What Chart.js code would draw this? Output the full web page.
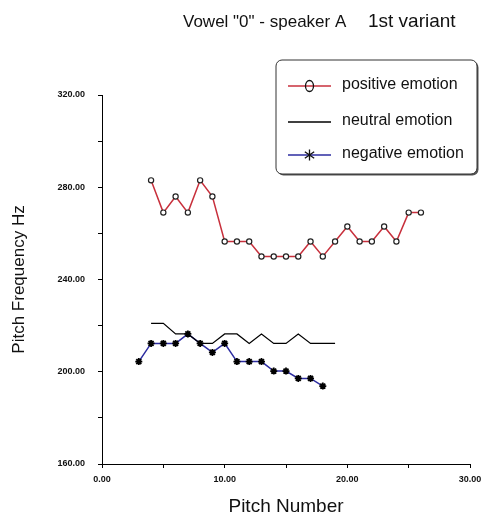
<!DOCTYPE html>
<html>
<head>
<meta charset="utf-8">
<script src="https://cdn.jsdelivr.net/npm/chart.js@4/dist/chart.umd.min.js"></script>
<style>
  html, body { margin: 0; padding: 0; background: #fff; }
  #wrap { width: 488px; height: 526px; position: relative; }
</style>
</head>
<body>
<div id="wrap"><canvas id="c" width="488" height="526"></canvas></div>
<script>
// Pitch numbers and pitch frequencies (Hz) for each emotion
const pitchPositive = [4, 5, 6, 7, 8, 9, 10, 11, 12, 13, 14, 15, 16, 17, 18, 19, 20, 21, 22, 23, 24, 25, 26];
const hzPositive = [283, 269, 276, 269, 283, 276, 256.5, 256.5, 256.5, 250, 250, 250, 250, 256.5, 250, 256.5, 263, 256.5, 256.5, 263, 256.5, 269, 269];

const pitchNeutral = [4, 5, 6, 7, 8, 9, 10, 11, 12, 13, 14, 15, 16, 17, 18, 19];
const hzNeutral = [221, 221, 216.4, 216.4, 212.3, 212.3, 216.4, 216.4, 212.3, 216.4, 212.3, 212.3, 216.4, 212.3, 212.3, 212.3];

const pitchNegative = [3, 4, 5, 6, 7, 8, 9, 10, 11, 12, 13, 14, 15, 16, 17, 18];
const hzNegative = [204.4, 212.3, 212.3, 212.3, 216.4, 212.3, 208.4, 212.3, 204.4, 204.4, 204.4, 200.3, 200.3, 197.1, 197.1, 193.8];

const seriesNames = ['positive emotion', 'neutral emotion', 'negative emotion'];
const titleParts = ['Vowel "0" - speaker A', '1st variant'];
const xTitle = 'Pitch Number';
const yTitle = 'Pitch Frequency Hz';

const FONT = '"Liberation Sans", Arial, sans-serif';
const RED = '#c8303c';
const BLUE = '#2c2ca0';

const pts = (xs, ys) => xs.map((x, i) => ({ x, y: ys[i] }));

// Title and boxed legend drawn on top of the chart
const decorations = {
  id: 'decorations',
  afterDraw(chart) {
    const ctx = chart.ctx;
    ctx.save();
    // title
    ctx.fillStyle = '#111';
    ctx.textBaseline = 'alphabetic';
    ctx.textAlign = 'left';
    ctx.font = '17px ' + FONT;
    ctx.fillText(titleParts[0], 183, 27);
    ctx.font = '19px ' + FONT;
    ctx.fillText(titleParts[1], 368, 27);

    // legend box with a small shadow
    const bx = 276, by = 60, bw = 201, bh = 114, r = 6;
    const rr = (x, y, w, h) => {
      ctx.beginPath();
      ctx.moveTo(x + r, y);
      ctx.arcTo(x + w, y, x + w, y + h, r);
      ctx.arcTo(x + w, y + h, x, y + h, r);
      ctx.arcTo(x, y + h, x, y, r);
      ctx.arcTo(x, y, x + w, y, r);
      ctx.closePath();
    };
    ctx.fillStyle = '#555';
    rr(bx + 1.5, by + 1.5, bw, bh);
    ctx.fill();
    ctx.fillStyle = '#fff';
    rr(bx, by, bw, bh);
    ctx.fill();
    ctx.strokeStyle = '#333';
    ctx.lineWidth = 1;
    ctx.stroke();

    const rows = [86, 122, 155];
    const colors = [RED, '#000', BLUE];
    rows.forEach((y, i) => {
      ctx.strokeStyle = colors[i];
      ctx.lineWidth = 1.5;
      ctx.beginPath();
      ctx.moveTo(288, y);
      ctx.lineTo(331, y);
      ctx.stroke();
      ctx.strokeStyle = '#111';
      ctx.lineWidth = 1.3;
      if (i === 0) {
        ctx.beginPath();
        ctx.ellipse(309.5, y, 4, 5.5, 0, 0, Math.PI * 2);
        ctx.stroke();
      } else if (i === 2) {
        ctx.beginPath();
        const s = 5.5;
        ctx.moveTo(309.5, y - s); ctx.lineTo(309.5, y + s);
        ctx.moveTo(309.5 - s * 0.85, y - s * 0.6); ctx.lineTo(309.5 + s * 0.85, y + s * 0.6);
        ctx.moveTo(309.5 + s * 0.85, y - s * 0.6); ctx.lineTo(309.5 - s * 0.85, y + s * 0.6);
        ctx.stroke();
      }
      ctx.fillStyle = '#111';
      ctx.font = '16px ' + FONT;
      ctx.textBaseline = 'middle';
      ctx.fillText(seriesNames[i], 342, y - 1);
    });
    ctx.restore();
  }
};

const axisGrid = {
  display: true,
  drawOnChartArea: false,
  drawTicks: true,
  tickLength: 4,
  color: '#000',
  tickColor: '#000',
  lineWidth: 1
};

new Chart(document.getElementById('c'), {
  type: 'line',
  data: {
    datasets: [
      {
        label: seriesNames[0],
        data: pts(pitchPositive, hzPositive),
        borderColor: RED,
        borderWidth: 1.5,
        pointStyle: 'circle',
        pointRadius: 2.6,
        pointBorderWidth: 1.2,
        pointBorderColor: '#222',
        pointBackgroundColor: '#fff',
        tension: 0
      },
      {
        label: seriesNames[1],
        data: pts(pitchNeutral, hzNeutral),
        borderColor: '#000',
        borderWidth: 1.2,
        pointRadius: 0,
        tension: 0
      },
      {
        label: seriesNames[2],
        data: pts(pitchNegative, hzNegative),
        borderColor: BLUE,
        borderWidth: 1.5,
        pointStyle: 'star',
        pointRadius: 3.5,
        pointBorderWidth: 1.8,
        pointBorderColor: '#000',
        pointBackgroundColor: '#000',
        tension: 0
      }
    ]
  },
  options: {
    responsive: false,
    animation: false,
    layout: { padding: { top: 95, right: 18, bottom: 0, left: 0 } },
    plugins: {
      legend: { display: false },
      title: { display: false },
      tooltip: { enabled: false }
    },
    scales: {
      x: {
        type: 'linear',
        min: 0,
        max: 30,
        grid: axisGrid,
        border: { display: true, color: '#000', width: 1 },
        ticks: {
          stepSize: 5,
          autoSkip: false,
          maxRotation: 0,
          padding: 6,
          color: '#111',
          font: { family: FONT, size: 9, weight: 'bold' },
          callback: v => (v % 10 === 0 ? v.toFixed(2) : '')
        },
        title: {
          display: true,
          text: xTitle,
          color: '#111',
          font: { family: FONT, size: 19 },
          padding: { top: 0, bottom: 8 }
        },
        afterFit: s => { s.height = 62; }
      },
      y: {
        type: 'linear',
        min: 160,
        max: 320,
        grid: axisGrid,
        border: { display: true, color: '#000', width: 1 },
        ticks: {
          stepSize: 20,
          autoSkip: false,
          padding: 13,
          color: '#111',
          font: { family: FONT, size: 9, weight: 'bold' },
          callback: v => ((v - 160) % 40 === 0 ? v.toFixed(2) : '')
        },
        title: {
          display: true,
          text: yTitle,
          color: '#111',
          font: { family: FONT, size: 17 },
          padding: { top: 9, bottom: 0 }
        },
        afterFit: s => { s.width = 102; }
      }
    }
  },
  plugins: [decorations]
});
</script>
</body>
</html>
